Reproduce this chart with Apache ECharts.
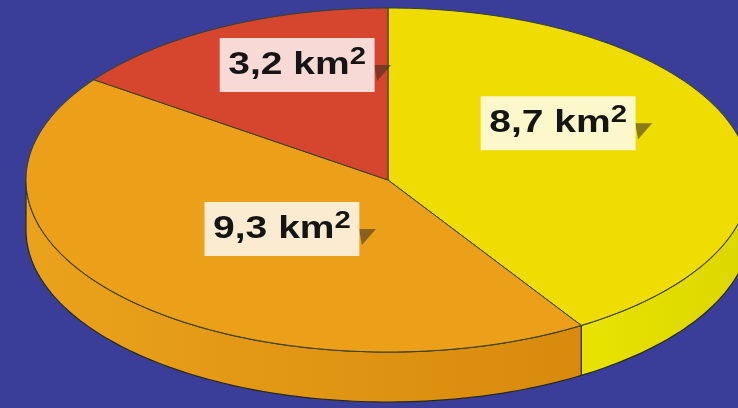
<!DOCTYPE html>
<html>
<head>
<meta charset="utf-8">
<script src="https://cdn.jsdelivr.net/npm/echarts@6/dist/echarts.min.js"></script>
<style>
  html, body { margin: 0; padding: 0; background: #3b3e98; }
  #chart { width: 738px; height: 408px; }
</style>
</head>
<body>
<div id="chart"></div>
<script>
// slices go clockwise from 12 o'clock
const areaValues = [8.7, 9.3, 3.2];
const areaLabels = ['8,7', '9,3', '3,2'];
const unitText = 'km';

const topColors = ['#efdc00', '#eca01a', '#d6462e'];
const sideColors = [['#e8e300', '#dcd600'], ['#eaa21c', '#d88a0c'], ['#c83c26', '#c83c26']];
// label box centres, as fractions of the half-axes from the pie centre
const labelSpots = [[0.47, -0.33], [-0.293, 0.285], [-0.251, -0.669]];

const pie = { cx: 388, cy: 180, rx: 362, ry: 172, depth: 50 };
const total = areaValues.reduce((s, v) => s + v, 0);

function arcPoints(t0, t1, dy) {
  const pts = [];
  const n = Math.max(2, Math.ceil((t1 - t0) / 0.02));
  for (let k = 0; k <= n; k++) {
    const t = t0 + (t1 - t0) * k / n;
    pts.push([pie.cx + pie.rx * Math.cos(t), pie.cy + pie.ry * Math.sin(t) + dy]);
  }
  return pts;
}

function renderSlice(params, api) {
  const i = params.dataIndex;
  let before = 0;
  for (let k = 0; k < i; k++) before += areaValues[k];
  const start = -Math.PI / 2 + before / total * Math.PI * 2;
  const end = start + api.value(0) / total * Math.PI * 2;
  const children = [];

  // side wall: only the front half (0..PI) is visible
  [[0, Math.PI], [2 * Math.PI, 3 * Math.PI]].forEach(([lo, hi]) => {
    const s = Math.max(start, lo), e = Math.min(end, hi);
    if (e <= s) return;
    const pts = arcPoints(s, e, 0).concat(arcPoints(s, e, pie.depth).reverse());
    children.push({
      type: 'polygon',
      shape: { points: pts },
      style: {
        fill: new echarts.graphic.LinearGradient(0, 0, 1, 0, [
          { offset: 0, color: sideColors[i][0] },
          { offset: 1, color: sideColors[i][1] }
        ]),
        stroke: '#262a22',
        lineWidth: 1.2
      }
    });
  });

  // top face
  children.push({
    type: 'polygon',
    z2: 2,
    shape: { points: [[pie.cx, pie.cy]].concat(arcPoints(start, end, 0)) },
    style: { fill: topColors[i], stroke: '#34432a', lineWidth: 1 }
  });

  // label box + little shadow wedge
  const lx = pie.cx + labelSpots[i][0] * pie.rx;
  const ly = pie.cy + labelSpots[i][1] * pie.ry;
  const right = lx + 79;
  children.push({
    type: 'polygon',
    z2: 9,
    shape: { points: [[right - 2, ly], [right + 15, ly], [right + 1, ly + 16]] },
    style: { fill: 'rgba(55,45,35,0.55)' }
  });
  children.push({
    type: 'text',
    z2: 10,
    x: lx,
    y: ly,
    scaleX: 1.22,
    style: {
      text: '{v|' + areaLabels[i] + ' ' + unitText + '}{sup|2}',
      align: 'center',
      verticalAlign: 'middle',
      backgroundColor: 'rgba(255,255,255,0.8)',
      padding: [7, 7, 7, 7],
      rich: {
        v: { fontSize: 32, fontWeight: 'bold', fontFamily: 'Liberation Sans', fill: '#151515', lineHeight: 40 },
        sup: { fontSize: 24, fontWeight: 'bold', fontFamily: 'Liberation Sans', fill: '#151515', lineHeight: 22, verticalAlign: 'top' }
      }
    }
  });

  return { type: 'group', children: children };
}

const myChart = echarts.init(document.getElementById('chart'));
myChart.setOption({
  backgroundColor: '#3b3e98',
  animation: false,
  series: [
    {
      type: 'custom',
      coordinateSystem: 'none',
      renderItem: renderSlice,
      data: areaValues.map(v => [v])
    }
  ]
});
</script>
</body>
</html>
